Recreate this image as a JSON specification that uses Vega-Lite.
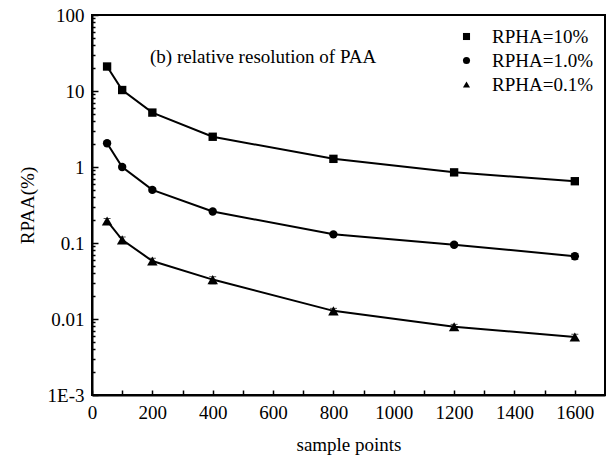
{
  "$schema": "https://vega.github.io/schema/vega-lite/v6.json",
  "autosize": "none",
  "width": 513,
  "height": 380,
  "padding": {"left": 92, "top": 15, "right": 4, "bottom": 64},
  "background": "white",
  "config": {
    "font": "Times New Roman",
    "view": {"stroke": "black", "strokeWidth": 2},
    "axis": {"domainColor": "black", "domainWidth": 2, "tickColor": "black", "tickWidth": 1.5, "labelColor": "black", "titleColor": "black", "labelFont": "Times New Roman", "titleFont": "Times New Roman", "labelFontSize": 19, "titleFontSize": 19, "titleFontWeight": "normal", "grid": false},
    "legend": {"labelFont": "Times New Roman"}
  },
  "title": {"text": "(b)  relative resolution of PAA", "anchor": "start", "frame": "group", "dx": 58, "dy": 65, "fontSize": 19, "fontWeight": "normal", "font": "Times New Roman", "color": "black"},
  "data": {"values": [
    {"n": 50, "s": "RPHA=10%", "r": 21, "lo": 20.2, "hi": 21.8},
    {"n": 100, "s": "RPHA=10%", "r": 10.3, "lo": 9.9, "hi": 10.7},
    {"n": 200, "s": "RPHA=10%", "r": 5.2, "lo": 5.0, "hi": 5.4},
    {"n": 400, "s": "RPHA=10%", "r": 2.5, "lo": 2.4, "hi": 2.6},
    {"n": 800, "s": "RPHA=10%", "r": 1.28, "lo": 1.23, "hi": 1.33},
    {"n": 1200, "s": "RPHA=10%", "r": 0.85, "lo": 0.82, "hi": 0.88},
    {"n": 1600, "s": "RPHA=10%", "r": 0.65, "lo": 0.62, "hi": 0.68},
    {"n": 50, "s": "RPHA=1.0%", "r": 2.05, "lo": 1.95, "hi": 2.15},
    {"n": 100, "s": "RPHA=1.0%", "r": 1.0, "lo": 0.94, "hi": 1.06},
    {"n": 200, "s": "RPHA=1.0%", "r": 0.5, "lo": 0.47, "hi": 0.53},
    {"n": 400, "s": "RPHA=1.0%", "r": 0.26, "lo": 0.25, "hi": 0.27},
    {"n": 800, "s": "RPHA=1.0%", "r": 0.13, "lo": 0.125, "hi": 0.135},
    {"n": 1200, "s": "RPHA=1.0%", "r": 0.095, "lo": 0.089, "hi": 0.101},
    {"n": 1600, "s": "RPHA=1.0%", "r": 0.067, "lo": 0.061, "hi": 0.073},
    {"n": 50, "s": "RPHA=0.1%", "r": 0.195, "lo": 0.18, "hi": 0.21},
    {"n": 100, "s": "RPHA=0.1%", "r": 0.11, "lo": 0.1, "hi": 0.12},
    {"n": 200, "s": "RPHA=0.1%", "r": 0.058, "lo": 0.053, "hi": 0.063},
    {"n": 400, "s": "RPHA=0.1%", "r": 0.033, "lo": 0.029, "hi": 0.036},
    {"n": 800, "s": "RPHA=0.1%", "r": 0.0128, "lo": 0.0118, "hi": 0.0138},
    {"n": 1200, "s": "RPHA=0.1%", "r": 0.0079, "lo": 0.0073, "hi": 0.0085},
    {"n": 1600, "s": "RPHA=0.1%", "r": 0.0058, "lo": 0.0053, "hi": 0.0063}
  ]},
  "encoding": {
    "x": {"field": "n", "type": "quantitative", "title": "sample points",
      "scale": {"domain": [0, 1700], "nice": false, "zero": false},
      "axis": {"values": [0,100,200,300,400,500,600,700,800,900,1000,1100,1200,1300,1400,1500,1600],
        "format": "d",
        "labelExpr": "datum.value % 200 == 0 ? datum.label : ''",
        "labelFlush": false, "labelOverlap": false,
        "labelFont": "Times New Roman", "titleFont": "Times New Roman",
        "tickSize": -5,
        "labelPadding": 13, "titlePadding": 13}}
  },
  "layer": [
    {
      "mark": {"type": "line", "color": "black", "strokeWidth": 2},
      "encoding": {
        "y": {"field": "r", "type": "quantitative", "title": "RPAA(%)",
          "scale": {"type": "log", "domain": [0.001, 100], "nice": false},
          "axis": {"values": [0.001,0.002,0.003,0.004,0.005,0.006,0.007,0.008,0.009,0.01,0.02,0.03,0.04,0.05,0.06,0.07,0.08,0.09,0.1,0.2,0.3,0.4,0.5,0.6,0.7,0.8,0.9,1,2,3,4,5,6,7,8,9,10,20,30,40,50,60,70,80,90,100],
            "labelExpr": "datum.value==100?'100':datum.value==10?'10':datum.value==1?'1':datum.value==0.1?'0.1':datum.value==0.01?'0.01':datum.value==0.001?'1E-3':''",
            "labelOverlap": false, "labelFlush": false,
            "labelFont": "Times New Roman", "titleFont": "Times New Roman",
            "tickSize": {"condition": {"test": "indexof([100,10,1,0.1,0.01,0.001], datum.value) >= 0", "value": -6}, "value": -3},
            "labelPadding": 14, "titlePadding": 10}},
        "detail": {"field": "s"}
      }
    },
    {
      "mark": {"type": "errorbar", "ticks": {"size": 7, "color": "black"}, "rule": {"color": "black", "strokeWidth": 1.5}},
      "encoding": {
        "y": {"field": "lo", "type": "quantitative", "title": "RPAA(%)"},
        "y2": {"field": "hi"},
        "detail": {"field": "s"}
      }
    },
    {
      "mark": {"type": "point", "filled": true, "opacity": 1, "color": "black"},
      "encoding": {
        "y": {"field": "r", "type": "quantitative", "title": "RPAA(%)"},
        "size": {"condition": {"test": "datum.s == 'RPHA=0.1%'", "value": 110}, "value": 70},
        "shape": {"field": "s", "type": "nominal",
          "scale": {"domain": ["RPHA=10%", "RPHA=1.0%", "RPHA=0.1%"], "range": ["square", "circle", "triangle-up"]},
          "legend": {"title": null, "orient": "top-right", "offset": 12, "labelFontSize": 19, "labelFont": "Times New Roman", "labelColor": "black", "symbolFillColor": "black", "symbolStrokeColor": "black", "symbolSize": 50, "rowPadding": 4, "labelOffset": 16}}
      }
    }
  ]
}
